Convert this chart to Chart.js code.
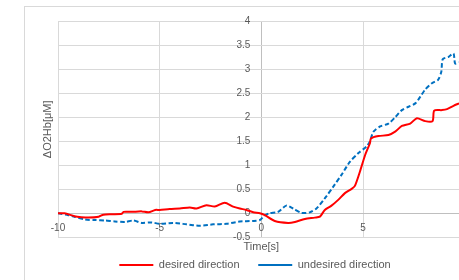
<!DOCTYPE html>
<html>
<head>
<meta charset="utf-8">
<script src="https://cdn.jsdelivr.net/npm/chart.js@4/dist/chart.umd.min.js"></script>
<style>
  body { margin: 0; background: #fff; }
  canvas { display: block; }
</style>
</head>
<body>
<canvas id="fnirsChart" width="459" height="280"></canvas>
<script>
// values (time in s, ΔO2Hb in μM)
const desiredTime = [-10, -9.68, -9.19, -8.85, -8.5, -8.0, -7.77, -7.35, -6.86, -6.78, -6.37, -5.88, -5.55, -5.22, -5.0,
  -4.51, -4.01, -3.52, -3.19, -2.7, -2.29, -1.8, -1.39, -1.06, -0.73, -0.4, -0.07, 0.17, 0.66, 1.32, 1.65,
  2.14, 2.63, 2.88, 3.12, 3.45, 3.78, 4.11, 4.44, 4.6, 4.85, 5.1, 5.34, 5.39, 5.76, 6.25, 6.58, 6.91, 7.32,
  7.65, 8.06, 8.42, 8.5, 8.88, 9.13, 9.45, 9.73];
const desiredValues = [0, 0, -0.06, -0.08, -0.09, -0.07, -0.03, -0.02, -0.01, 0.03, 0.03, 0.04, 0.02, 0.07, 0.07,
  0.09, 0.1, 0.12, 0.1, 0.17, 0.14, 0.22, 0.14, 0.1, 0.07, 0.02, 0, -0.04, -0.16, -0.2, -0.18,
  -0.12, -0.09, -0.07, 0.07, 0.16, 0.28, 0.42, 0.51, 0.57, 0.87, 1.21, 1.46, 1.56, 1.61, 1.63, 1.7, 1.82, 1.87,
  1.98, 1.92, 1.92, 2.14, 2.15, 2.17, 2.24, 2.29];

const undesiredTime = [-10, -9.49, -9.19, -8.67, -8.18, -7.69, -7.2, -6.7, -6.29, -5.88, -5.39, -5.0, -4.34, -3.68,
  -3.03, -2.37, -1.71, -1.06, -0.4, -0.07, 0.15, 0.4, 0.82, 1.23, 1.56, 1.97, 2.38, 2.71, 3.12, 3.53, 3.94,
  4.35, 4.76, 5.17, 5.34, 5.51, 5.84, 6.25, 6.58, 6.91, 7.24, 7.57, 7.82, 8.06, 8.39, 8.69, 8.85, 8.92,
  9.21, 9.45, 9.53, 9.73];
const undesiredValues = [0, -0.04, -0.07, -0.13, -0.14, -0.15, -0.17, -0.18, -0.15, -0.2, -0.19, -0.22, -0.2, -0.23,
  -0.26, -0.23, -0.22, -0.17, -0.16, -0.14, -0.05, 0, 0.03, 0.16, 0.1, 0.01, 0.02, 0.1, 0.31, 0.55, 0.8,
  1.07, 1.25, 1.39, 1.5, 1.7, 1.81, 1.87, 2.0, 2.15, 2.22, 2.29, 2.43, 2.58, 2.71, 2.78, 2.95, 3.21,
  3.26, 3.33, 3.12, 3.14];

const xTicks = [-10, -5, 0, 5];
const yTicks = [-0.5, 0, 0.5, 1, 1.5, 2, 2.5, 3, 3.5, 4];
const seriesNames = ['desired direction', 'undesired direction'];
const xTitle = 'Time[s]';
const yTitle = 'ΔO2Hb[μM]';

const toPoints = (xs, ys) => xs.map((t, i) => ({ x: t, y: ys[i] }));
const gridColor = c => (c.tick && c.tick.value === 0 ? '#bfbfbf' : '#d9d9d9');

// outer chart frame (the reference is cropped on the right/bottom)
const framePlugin = {
  id: 'frame',
  beforeDraw(chart) {
    const ctx = chart.ctx;
    ctx.save();
    ctx.fillStyle = '#ffffff';
    ctx.fillRect(0, 0, chart.width, chart.height);
    ctx.strokeStyle = '#d9d9d9';
    ctx.lineWidth = 1;
    ctx.strokeRect(24.5, 6.5, 700, 400);
    ctx.restore();
  }
};

// axes cross at (0, 0): labels sit on the zero lines
const axisTextPlugin = {
  id: 'axisText',
  beforeDatasetsDraw(chart) {
    const { ctx, chartArea, scales: { x, y } } = chart;
    const x0 = x.getPixelForValue(0);
    const y0 = y.getPixelForValue(0);
    ctx.save();
    ctx.fillStyle = '#595959';
    ctx.font = '10px "Liberation Sans"';
    ctx.textBaseline = 'middle';
    ctx.textAlign = 'right';
    yTicks.forEach(v => ctx.fillText(String(v), x0 - 11, y.getPixelForValue(v)));
    ctx.textAlign = 'center';
    xTicks.forEach(v => ctx.fillText(String(v), x.getPixelForValue(v), y0 + 15));
    ctx.font = '11px "Liberation Sans"';
    ctx.fillText(xTitle, x0, y0 + 34);
    ctx.translate(48, (chartArea.top + chartArea.bottom) / 2);
    ctx.rotate(-Math.PI / 2);
    ctx.fillText(yTitle, 0, 0);
    ctx.restore();
  }
};

new Chart(document.getElementById('fnirsChart'), {
  type: 'line',
  data: {
    datasets: [{
      label: seriesNames[0],
      data: toPoints(desiredTime, desiredValues),
      borderColor: '#ff0000',
      backgroundColor: '#ff0000',
      borderWidth: 2,
      pointRadius: 0,
      tension: 0.25
    }, {
      label: seriesNames[1],
      data: toPoints(undesiredTime, undesiredValues),
      borderColor: '#0070c0',
      backgroundColor: '#0070c0',
      borderWidth: 2,
      borderDash: [4.5, 2.5],
      pointRadius: 0,
      tension: 0.25
    }]
  },
  options: {
    responsive: false,
    animation: false,
    layout: {
      padding: { left: 0, right: -51, top: 21.3, bottom: -0.5 }
    },
    plugins: {
      tooltip: { enabled: false },
      legend: {
        position: 'bottom',
        labels: {
          usePointStyle: true,
          pointStyle: 'line',
          pointStyleWidth: 34,
          padding: 18.7,
          color: '#595959',
          font: { family: 'Liberation Sans', size: 11 }
        }
      }
    },
    scales: {
      x: {
        type: 'linear',
        min: -10,
        max: 9.72,
        ticks: { display: false, stepSize: 5 },
        grid: { color: gridColor, drawTicks: false },
        border: { display: false },
        afterFit: s => { s.height = 3.5; }
      },
      y: {
        min: -0.5,
        max: 4,
        ticks: { display: false, stepSize: 0.5 },
        grid: { color: gridColor, drawTicks: false },
        border: { display: false },
        afterFit: s => { s.width = 58; }
      }
    }
  },
  plugins: [framePlugin, axisTextPlugin]
});
</script>
</body>
</html>
